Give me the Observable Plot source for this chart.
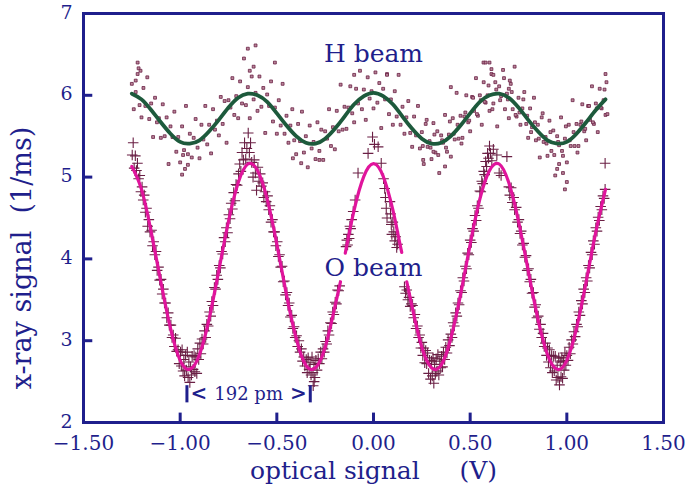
<!DOCTYPE html>
<html>
<head>
<meta charset="utf-8">
<script src="https://cdn.jsdelivr.net/npm/d3@7"></script>
<script src="https://cdn.jsdelivr.net/npm/@observablehq/plot@0.6"></script>
<style>
  html, body { margin: 0; padding: 0; background: #ffffff; }
  #chart { width: 685px; height: 491px; }
</style>
</head>
<body>
<div id="chart"></div>
<script>
// ---------- data ----------
const xTicks = [-1.5, -1.0, -0.5, 0.0, 0.5, 1.0, 1.5];
const yTicks = [2, 3, 4, 5, 6, 7];
const xInnerTicks = [-1.0, -0.5, 0.0, 0.5, 1.0];
const yInnerTicks = [3, 4, 5, 6];

// fitted H-beam curve (green)
const hFitX = [-1.25,-1.2,-1.15,-1.1,-1.05,-1,-0.95,-0.9,-0.85,-0.8,-0.75,-0.7,-0.65,-0.6,-0.55,-0.5,-0.45,-0.4,-0.35,-0.3,-0.25,-0.2,-0.15,-0.1,-0.05,0,0.05,0.1,0.15,0.2,0.25,0.3,0.35,0.4,0.45,0.5,0.55,0.6,0.65,0.7,0.75,0.8,0.85,0.9,0.95,1,1.05,1.1,1.15,1.2];
const hFitY = [6.02,5.95,5.82,5.67,5.53,5.43,5.41,5.45,5.56,5.70,5.85,5.97,6.02,6.00,5.92,5.78,5.63,5.50,5.42,5.41,5.47,5.59,5.74,5.89,5.99,6.03,5.99,5.89,5.74,5.59,5.47,5.41,5.42,5.50,5.63,5.78,5.92,6.00,6.02,5.97,5.85,5.70,5.56,5.45,5.41,5.43,5.53,5.67,5.82,5.95];

// fitted O-beam curve (magenta); NaN = gap behind the "O beam" label
const oFitX = [-1.25,-1.2,-1.15,-1.1,-1.05,-1,-0.95,-0.9,-0.85,-0.8,-0.75,-0.7,-0.65,-0.6,-0.55,-0.5,-0.45,-0.4,-0.35,-0.3,-0.25,-0.2,-0.171,-0.16,-0.146,-0.1,-0.05,0,0.05,0.1,0.13,0.146,0.16,0.172,0.2,0.25,0.3,0.35,0.4,0.45,0.5,0.55,0.6,0.65,0.7,0.75,0.8,0.85,0.9,0.95,1,1.05,1.1,1.15,1.2];
const oFitY = [5.13,4.85,4.33,3.72,3.15,2.76,2.65,2.83,3.27,3.86,4.46,4.93,5.16,5.08,4.73,4.18,3.56,3.03,2.70,2.67,2.92,3.41,3.72,NaN,4.07,4.60,5.01,5.165,5.01,4.60,4.26,4.08,NaN,3.72,3.41,2.92,2.67,2.70,3.03,3.56,4.18,4.73,5.08,5.16,4.93,4.46,3.86,3.27,2.83,2.65,2.76,3.15,3.72,4.33,4.85];

// O-beam measurements (plus markers)
const oPoints = [
[-1.248,5.27],[-1.243,5.42],[-1.238,5.11],[-1.232,5.26],[-1.226,5.08],[-1.221,5.17],[-1.215,4.98],[-1.209,5.02],[-1.203,4.82],
[-1.197,4.88],[-1.191,4.72],[-1.186,4.78],[-1.180,4.57],[-1.174,4.62],[-1.168,4.40],[-1.162,4.48],[-1.156,4.33],
[-1.148,4.35],[-1.143,4.16],[-1.137,4.21],[-1.131,4.05],[-1.125,4.09],[-1.119,3.86],[-1.112,3.90],[-1.106,3.74],
[-1.099,3.75],[-1.093,3.57],[-1.087,3.63],[-1.081,3.46],[-1.075,3.46],[-1.069,3.28],[-1.062,3.34],[-1.056,3.19],
[-1.048,3.19],[-1.042,3.04],[-1.036,3.07],[-1.030,2.93],[-1.024,3.03],[-1.018,2.87],[-1.011,2.89],[-1.005,2.72],
[-0.998,2.86],[-0.994,2.69],[-0.990,2.89],[-0.985,2.63],[-0.981,2.77],[-0.977,2.57],[-0.972,2.82],[-0.968,2.64],[-0.963,2.86],[-0.959,2.55],[-0.955,2.74],[-0.950,2.49],[-0.946,2.68],
[-0.942,2.58],[-0.938,2.81],[-0.933,2.65],[-0.928,2.82],[-0.924,2.62],[-0.919,2.80],[-0.914,2.60],[-0.909,2.90],[-0.904,2.77],
[-0.898,2.97],[-0.893,2.84],[-0.887,3.02],[-0.881,2.96],[-0.874,3.12],[-0.868,3.04],[-0.862,3.20],[-0.855,3.18],
[-0.848,3.35],[-0.842,3.30],[-0.836,3.48],[-0.830,3.43],[-0.823,3.65],[-0.817,3.63],[-0.811,3.80],[-0.805,3.75],
[-0.798,3.92],[-0.792,3.89],[-0.786,4.09],[-0.780,4.06],[-0.773,4.26],[-0.767,4.21],[-0.761,4.38],[-0.755,4.32],
[-0.748,4.54],[-0.742,4.49],[-0.736,4.68],[-0.730,4.61],[-0.723,4.81],[-0.717,4.71],[-0.711,4.91],[-0.705,4.90],
[-0.698,5.04],[-0.692,5.16],[-0.686,5.07],[-0.680,5.30],[-0.673,5.21],[-0.667,5.42],[-0.661,5.22],[-0.655,5.35],
[-0.648,5.54],[-0.642,5.30],[-0.636,5.42],[-0.630,5.18],[-0.623,5.00],[-0.617,5.21],[-0.611,5.05],[-0.605,4.84],
[-0.598,5.12],[-0.592,4.95],[-0.586,5.04],[-0.580,4.89],[-0.573,4.93],[-0.567,4.75],[-0.561,4.82],[-0.555,4.70],
[-0.548,4.77],[-0.542,4.60],[-0.536,4.65],[-0.530,4.45],[-0.523,4.48],[-0.517,4.33],[-0.511,4.33],[-0.505,4.16],
[-0.498,4.21],[-0.492,4.03],[-0.486,4.05],[-0.480,3.90],[-0.473,3.91],[-0.467,3.72],[-0.461,3.73],[-0.455,3.56],
[-0.448,3.59],[-0.442,3.43],[-0.436,3.46],[-0.430,3.29],[-0.423,3.31],[-0.417,3.15],[-0.411,3.17],[-0.405,3.04],
[-0.398,3.06],[-0.392,2.93],[-0.386,3.00],[-0.380,2.86],[-0.373,2.90],[-0.367,2.75],[-0.361,2.80],[-0.355,2.69],
[-0.348,2.77],[-0.343,2.61],[-0.338,2.79],[-0.333,2.65],[-0.328,2.73],[-0.323,2.58],[-0.318,2.80],[-0.313,2.61],[-0.308,2.71],[-0.303,2.55],[-0.312,2.45],[-0.307,2.50],
[-0.298,2.76],[-0.292,2.64],[-0.286,2.78],[-0.280,2.72],[-0.273,2.86],[-0.267,2.78],[-0.261,2.90],[-0.255,2.86],
[-0.248,2.99],[-0.242,2.96],[-0.236,3.12],[-0.230,3.07],[-0.223,3.22],[-0.217,3.21],[-0.211,3.35],[-0.205,3.32],
[-0.198,3.47],[-0.192,3.45],[-0.186,3.62],[-0.180,3.61],[-0.175,3.67],
[-0.142,4.15],[-0.138,4.23],[-0.134,4.17],[-0.130,4.30],[-0.126,4.25],[-0.122,4.40],[-0.118,4.37],[-0.113,4.48],
[-0.105,4.58],[-0.095,4.72],[-0.080,5.05],[-0.028,5.29],[-0.005,5.49],[0.005,5.40],[0.024,5.37],[0.040,5.17],
[0.052,4.98],[0.058,4.86],[0.062,4.75],[0.066,4.62],[0.070,4.50],[0.085,4.70],[0.088,4.55],[0.092,4.42],[0.095,4.30],[0.100,4.45],[0.105,4.33],[0.110,4.22],[0.115,4.27],[0.120,4.14],[0.125,4.18],
[0.160,3.66],[0.166,3.58],[0.172,3.62],[0.178,3.50],[0.184,3.53],[0.190,3.42],[0.196,3.45],
[0.202,3.43],[0.208,3.28],[0.214,3.32],[0.220,3.15],[0.227,3.18],[0.233,3.04],[0.239,3.07],[0.245,2.91],
[0.250,2.98],[0.255,2.82],[0.260,2.91],[0.265,2.73],[0.270,2.88],[0.275,2.72],[0.280,2.85],[0.285,2.60],[0.290,2.76],[0.295,2.53],[0.300,2.75],
[0.304,2.57],[0.308,2.79],[0.312,2.48],[0.316,2.71],[0.320,2.60],[0.324,2.78],[0.328,2.63],[0.333,2.83],[0.338,2.58],[0.343,2.75],[0.348,2.67],
[0.352,2.81],[0.357,2.68],[0.362,2.86],[0.368,2.77],[0.374,2.92],[0.380,2.85],[0.386,3.01],[0.393,2.94],
[0.400,3.08],[0.406,3.04],[0.412,3.22],[0.418,3.18],[0.425,3.34],[0.431,3.30],[0.437,3.46],[0.443,3.44],
[0.450,3.61],[0.456,3.59],[0.462,3.77],[0.468,3.73],[0.475,3.91],[0.481,3.88],[0.487,4.07],[0.493,4.05],
[0.500,4.23],[0.506,4.20],[0.512,4.37],[0.518,4.34],[0.525,4.53],[0.531,4.47],[0.537,4.65],[0.543,4.62],
[0.550,4.83],[0.555,4.82],[0.560,4.95],[0.565,4.92],[0.570,5.07],[0.575,5.03],[0.580,5.19],[0.585,5.13],[0.590,5.29],[0.595,5.23],[0.600,5.38],[0.605,5.29],
[0.612,5.20],[0.620,5.34],[0.638,5.27],[0.650,5.05],[0.660,5.02],[0.690,5.25],
[0.700,4.88],[0.705,4.78],[0.712,4.87],[0.718,4.69],[0.725,4.75],[0.730,4.60],[0.738,4.63],[0.745,4.45],
[0.752,4.48],[0.758,4.31],[0.764,4.34],[0.770,4.17],[0.777,4.19],[0.783,4.02],[0.789,4.04],[0.795,3.86],
[0.802,3.88],[0.808,3.72],[0.814,3.75],[0.820,3.58],[0.827,3.59],[0.833,3.41],[0.839,3.44],[0.845,3.28],
[0.852,3.30],[0.858,3.14],[0.864,3.20],[0.870,3.04],[0.877,3.09],[0.883,2.93],[0.889,2.97],[0.895,2.82],
[0.900,2.91],[0.905,2.74],[0.910,2.89],[0.915,2.67],[0.920,2.82],[0.925,2.61],[0.930,2.81],[0.935,2.63],[0.940,2.81],[0.945,2.52],[0.950,2.70],
[0.954,2.55],[0.958,2.79],[0.962,2.46],[0.966,2.74],[0.970,2.56],[0.974,2.79],[0.978,2.54],[0.982,2.75],[0.986,2.64],[0.990,2.85],[0.995,2.70],
[1.000,2.82],[1.006,2.76],[1.012,2.92],[1.018,2.84],[1.025,3.01],[1.031,2.96],[1.037,3.11],[1.043,3.05],
[1.050,3.20],[1.056,3.17],[1.062,3.35],[1.068,3.31],[1.075,3.49],[1.081,3.45],[1.087,3.63],[1.093,3.59],
[1.100,3.77],[1.106,3.73],[1.112,3.92],[1.118,3.89],[1.125,4.08],[1.131,4.05],[1.137,4.22],[1.143,4.18],
[1.150,4.38],[1.156,4.34],[1.162,4.51],[1.168,4.47],[1.175,4.64],[1.181,4.60],[1.187,4.77],[1.193,4.74],[1.198,4.85],[1.198,5.17]
];

// H-beam measurements (small square markers)
const hPoints = [
[-1.25,6.14],[-1.24,5.83],[-1.23,6.04],[-1.22,6.26],[-1.21,5.88],[-1.20,5.73],[-1.19,6.09],[-1.18,5.87],[-1.17,6.22],[-1.16,5.71],
[-1.15,5.90],[-1.14,5.49],[-1.13,5.97],[-1.12,5.67],[-1.11,5.72],[-1.10,5.48],[-1.09,5.89],[-1.08,5.50],[-1.07,5.73],[-1.06,5.16],
[-1.05,5.62],[-1.04,5.49],[-1.03,5.80],[-1.02,5.31],[-1.01,5.49],[-1.00,5.18],[-0.99,5.62],[-0.98,5.33],[-0.97,5.87],[-0.96,5.28],
[-0.95,5.53],[-0.94,5.24],[-0.93,5.48],[-0.92,5.71],[-0.91,5.36],[-0.90,5.23],[-0.89,5.64],[-0.88,5.46],[-0.87,5.87],[-0.86,5.40],
[-0.85,5.64],[-0.84,5.29],[-0.83,5.83],[-0.82,5.58],[-0.81,5.69],[-0.80,5.51],[-0.79,5.98],[-0.78,5.65],[-0.77,5.93],[-0.76,5.42],
[-0.75,5.94],[-0.74,5.85],[-0.73,6.21],[-0.72,5.76],[-0.71,5.99],[-0.70,5.72],[-0.69,6.17],[-0.68,5.90],[-0.67,6.45],[-0.66,5.88],
[-0.65,6.10],[-0.64,5.72],[-0.63,6.23],[-0.62,5.95],[-0.61,6.03],[-0.60,5.81],[-0.59,6.23],[-0.58,5.86],[-0.57,6.09],[-0.56,5.54],
[-0.55,6.01],[-0.54,5.87],[-0.53,6.17],[-0.52,5.68],[-0.51,5.85],[-0.50,5.53],[-0.49,5.94],[-0.48,5.63],[-0.47,6.14],[-0.46,5.53],
[-0.45,5.75],[-0.44,5.42],[-0.43,5.63],[-0.42,5.83],[-0.41,5.45],[-0.40,5.28],[-0.39,5.65],[-0.38,5.44],[-0.37,5.80],[-0.36,5.30],
[-0.35,5.50],[-0.34,5.12],[-0.33,5.63],[-0.32,5.35],[-0.31,5.43],[-0.30,5.22],[-0.29,5.67],[-0.28,5.32],[-0.27,5.58],[-0.26,5.21],
[-0.25,5.56],[-0.24,5.47],[-0.23,5.83],[-0.22,5.38],[-0.21,5.61],[-0.20,5.34],[-0.19,5.81],[-0.18,5.56],[-0.17,6.13],[-0.16,5.58],
[-0.15,5.86],[-0.14,5.59],[-0.13,5.85],[-0.12,6.11],[-0.11,5.78],[-0.10,5.67],[-0.09,6.08],[-0.08,5.90],[-0.07,6.30],[-0.06,5.83],
[-0.05,6.07],[-0.04,5.70],[-0.03,6.22],[-0.02,5.96],[-0.01,6.05],[0.00,5.84],[0.01,6.28],[0.02,5.91],[0.03,6.15],[0.04,5.60],
[0.05,6.08],[0.06,5.95],[0.07,6.26],[0.08,5.77],[0.09,5.95],[0.10,5.64],[0.11,6.05],[0.12,5.74],[0.13,6.25],[0.14,5.64],
[0.15,5.86],[0.16,5.53],[0.17,5.73],[0.18,5.93],[0.19,5.54],[0.20,5.37],[0.21,5.74],[0.22,5.51],[0.23,5.87],[0.24,5.35],
[0.25,5.55],[0.26,5.16],[0.27,5.65],[0.28,5.37],[0.29,5.44],[0.30,5.22],[0.31,5.66],[0.32,5.30],[0.33,5.56],[0.34,5.05],
[0.35,5.51],[0.36,5.42],[0.37,5.76],[0.38,5.31],[0.39,5.52],[0.40,5.25],[0.41,5.72],[0.42,5.46],[0.43,6.03],[0.44,5.47],
[0.45,5.75],[0.46,5.48],[0.47,5.74],[0.48,6.00],[0.49,5.67],[0.50,5.56],[0.51,5.98],[0.52,5.81],[0.53,6.21],[0.54,5.75],
[0.55,6.00],[0.56,5.64],[0.57,6.16],[0.58,5.91],[0.59,6.00],[0.60,5.81],[0.61,6.26],[0.62,5.90],[0.63,6.16],[0.64,5.62],
[0.65,6.11],[0.66,5.99],[0.67,6.31],[0.68,5.83],[0.69,6.02],[0.70,5.72],[0.71,6.14],[0.72,5.83],[0.73,6.35],[0.74,5.74],
[0.75,5.97],[0.76,5.64],[0.77,5.84],[0.78,6.04],[0.79,5.65],[0.80,5.48],[0.81,5.84],[0.82,5.61],[0.83,5.97],[0.84,5.45],
[0.85,5.64],[0.86,5.24],[0.87,5.73],[0.88,5.43],[0.89,5.49],[0.90,5.26],[0.91,5.69],[0.92,5.32],[0.93,5.57],[0.94,5.02],
[0.95,5.50],[0.96,5.39],[0.97,5.73],[0.98,5.26],[0.99,5.47],[1.00,5.18],[1.01,5.64],[1.02,5.38],[1.03,5.94],[1.04,5.38],
[1.05,5.65],[1.06,5.38],[1.07,5.64],[1.08,5.89],[1.09,5.56],[1.10,5.45],[1.11,5.87],[1.12,5.70],[1.13,6.11],[1.14,5.65],
[1.15,5.90],[1.16,5.55],[1.17,6.08],[1.18,5.84],[1.19,5.94],[1.20,5.76],
[0.255,5.38],[0.275,5.70],[0.295,5.36],[0.315,5.52],[0.335,5.27],[0.355,5.45],[0.375,5.36],[0.395,5.68],[0.415,5.53],[0.435,5.64],
[0.455,5.41],[0.475,5.79],[0.495,5.69],[0.515,5.97],[0.535,5.77],[0.555,5.94],[0.575,5.92],[0.595,6.12],[0.615,5.83],[0.635,6.07],
[0.655,5.94],[0.675,6.21],[0.695,5.95],[0.715,6.04],[0.735,5.76],[0.755,5.79],[0.775,5.95],[0.795,5.75],[0.815,5.55],[0.835,5.67],
[0.855,5.47],[0.875,5.78],[0.895,5.41],[0.915,5.55],[0.935,5.27],[0.955,5.43],[0.975,5.32],[0.995,5.62],[1.015,5.45],[1.035,5.55],
[1.055,5.30],[1.075,5.68],[1.095,5.59],[1.115,5.87],[1.135,5.67],[1.155,5.84],[1.175,5.85],[1.195,6.07],
[-1.22,6.40],[-1.215,6.33],[-1.205,6.30],[-1.23,6.18],[-0.99,5.03],[-0.985,5.27],[-0.975,5.10],[-0.96,5.15],
[-0.65,6.57],[-0.61,6.61],[-0.51,6.40],[-0.64,6.30],[-0.62,6.35],[-0.417,5.23],[-0.374,5.17],[-0.28,5.21],
[-0.10,6.25],[0.07,6.25],[0.569,6.40],[0.58,6.40],[0.60,6.40],[0.62,6.25],[0.61,6.32],[0.705,6.18],[0.70,6.08],
[0.99,4.85],[1.00,4.94],[0.96,5.16],[0.98,5.05],[0.95,5.10],[1.20,6.26],[1.205,6.16],[1.21,5.77],
[0.257,5.21],[0.37,5.13],[0.31,5.31],[0.40,6.10]
];

// text annotations
const labelH = {x: 0.0, y: 6.50, text: "H beam"};
const labelO = {x: 0.0, y: 3.89, text: "O beam"};
const spanX = [-0.965, -0.327];
const spanY = [2.24, 2.45];
const spanTextY = 2.35;
const spanText = "192 pm";
const xTitle = "optical signal\u00a0\u00a0\u00a0\u00a0\u00a0(V)";
const yTitle = "x-ray signal\u00a0\u00a0(1/ms)";

// ---------- drawing ----------
const navy = "#1f1f8c";
const maroon = "#6a1f44";
const fmt = d3.format(".2f");
const hFit = hFitX.map((x, i) => ({x, y: hFitY[i]}));
const oFit = oFitX.map((x, i) => ({x, y: oFitY[i]}));

const chart = Plot.plot({
  width: 685,
  height: 491,
  marginLeft: 83,
  marginRight: 22,
  marginTop: 13,
  marginBottom: 69,
  style: {fontFamily: "DejaVu Serif", color: navy, background: "#ffffff", overflow: "visible"},
  x: {domain: [-1.5, 1.5]},
  y: {domain: [2, 7]},
  marks: [
    Plot.dot(hPoints, {x: d => d[0], y: d => d[1], symbol: "square", r: 1.6, fill: "#b98699", stroke: maroon, strokeWidth: 0.8}),
    Plot.dot(oPoints, {x: d => d[0], y: d => d[1], symbol: "plus", r: 3.5, stroke: maroon, strokeWidth: 1.1}),
    Plot.line(hFit, {x: "x", y: "y", curve: "natural", stroke: "#1d5a3c", strokeWidth: 3.8}),
    Plot.line(oFit, {x: "x", y: "y", curve: "natural", stroke: "#e0149c", strokeWidth: 3.2}),
    Plot.text([labelH, labelO], {x: "x", y: "y", text: "text", fontSize: 25, fill: navy}),
    Plot.ruleX(spanX, {x: d => d, y1: spanY[0], y2: spanY[1], stroke: navy, strokeWidth: 3}),
    Plot.text([spanX[0]], {x: d => d, y: spanTextY, text: () => "<", dx: 12, fontSize: 20, fontWeight: "bold", fill: navy}),
    Plot.text([spanX[1]], {x: d => d, y: spanTextY, text: () => ">", dx: -12, fontSize: 20, fontWeight: "bold", fill: navy}),
    Plot.text([spanText], {x: d3.mean(spanX), y: spanTextY, text: d => d, fontSize: 18, fill: navy}),
    Plot.ruleX(xInnerTicks, {x: d => d, y1: 2, y2: 2.115, stroke: navy, strokeWidth: 3}),
    Plot.ruleY(yInnerTicks, {y: d => d, x1: -1.5, x2: -1.452, stroke: navy, strokeWidth: 3}),
    Plot.axisX({ticks: xTicks, tickSize: 0, tickPadding: 13, tickFormat: fmt, fontSize: 20, label: null}),
    Plot.axisY({ticks: yTicks, tickSize: 0, tickPadding: 11, dy: -1, tickFormat: d3.format("d"), fontSize: 19, label: null}),
    Plot.text([xTitle], {frameAnchor: "bottom", text: d => d, textAnchor: "middle", dy: 56, fontSize: 25, fill: navy}),
    Plot.text([yTitle], {frameAnchor: "left", text: d => d, textAnchor: "middle", rotate: -90, dx: -61, dy: 40, fontSize: 27, fill: navy}),
    Plot.frame({stroke: navy, strokeWidth: 3})
  ]
});
document.getElementById("chart").appendChild(chart);
</script>
</body>
</html>
